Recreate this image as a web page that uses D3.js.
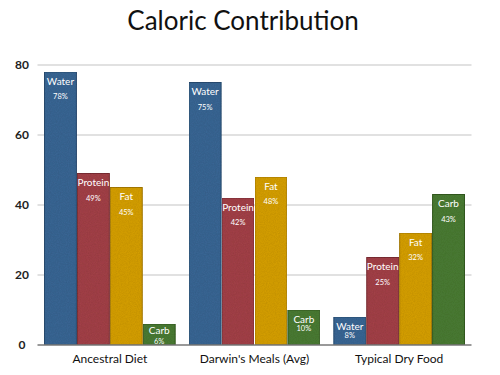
<!DOCTYPE html>
<html>
<head>
<meta charset="utf-8">
<script src="https://cdn.jsdelivr.net/npm/d3@7"></script>
<style>
  body { margin: 0; background: #fff; }
  svg { display: block; font-family: "Lato", "Open Sans", sans-serif; }
</style>
</head>
<body>
<script>
var categories = ["Ancestral Diet", "Darwin's Meals (Avg)", "Typical Dry Food"];
var nutrients = ["Water", "Protein", "Fat", "Carb"];
var water = [78, 75, 8];
var protein = [49, 42, 25];
var fat = [45, 48, 32];
var carb = [6, 10, 43];
var yTicks = [0, 20, 40, 60, 80];

function init() {
    var w = 500;
    var h = 375;
    var left = 37.5, right = 471.5, top = 65, bottom = 345;

    var values = [water, protein, fat, carb];
    var dataset = categories.map(function (c, i) {
        return { cat: c, bars: nutrients.map(function (n, j) {
            return { name: n, value: values[j][i] };
        }) };
    });

    var fill = d3.scaleOrdinal()
        .domain(nutrients)
        .range(["#3b6896", "#a5434a", "#d8a110", "#4b7d35"]);
    var stroke = d3.scaleOrdinal()
        .domain(nutrients)
        .range(["#2a4e73", "#7d2e34", "#a87c0a", "#355c24"]);

    var xScale = d3.scaleBand()
        .domain(categories)
        .range([left, right])
        .paddingInner(0.09)
        .paddingOuter(0.045);

    var xInner = d3.scaleBand()
        .domain(nutrients)
        .range([0, xScale.bandwidth()]);

    var yScale = d3.scaleLinear()
        .domain([0, 80])
        .range([bottom, top]);

    var svg = d3.select("body")
        .append("svg")
        .attr("width", w)
        .attr("height", h);

    // grain texture for the bars
    var filter = svg.append("defs").append("filter")
        .attr("id", "grain")
        .attr("x", 0).attr("y", 0).attr("width", 1).attr("height", 1);
    filter.append("feTurbulence")
        .attr("type", "fractalNoise")
        .attr("baseFrequency", 0.9)
        .attr("numOctaves", 2)
        .attr("result", "noise");
    filter.append("feColorMatrix")
        .attr("in", "noise")
        .attr("type", "matrix")
        .attr("values", "0 0 0 0 0  0 0 0 0 0  0 0 0 0 0  0 0 0 0.22 0")
        .attr("result", "dark");
    filter.append("feComposite")
        .attr("in", "dark").attr("in2", "SourceGraphic")
        .attr("operator", "in").attr("result", "darkIn");
    var merge = filter.append("feMerge");
    merge.append("feMergeNode").attr("in", "SourceGraphic");
    merge.append("feMergeNode").attr("in", "darkIn");

    // title
    svg.append("text")
        .attr("x", 243)
        .attr("y", 30)
        .attr("text-anchor", "middle")
        .style("font-size", "26px")
        .style("fill", "#111")
        .text("Caloric Contribution");

    // gridlines
    svg.append("g")
        .selectAll("line")
        .data(yTicks.slice(1))
        .enter()
        .append("line")
        .attr("x1", left)
        .attr("x2", right)
        .attr("y1", function (d) { return yScale(d); })
        .attr("y2", function (d) { return yScale(d); })
        .style("stroke", "#c4c4c4")
        .style("stroke-width", 1.2);

    // y labels
    svg.append("g")
        .selectAll("text")
        .data(yTicks)
        .enter()
        .append("text")
        .attr("x", 22)
        .attr("y", function (d) { return yScale(d) + 4; })
        .attr("text-anchor", "middle")
        .style("font-size", "12px")
        .style("font-weight", "bold")
        .style("fill", "#222")
        .text(function (d) { return d; });

    var groups = svg.selectAll("g.cat")
        .data(dataset)
        .enter()
        .append("g")
        .attr("class", "cat")
        .attr("transform", function (d) {
            return "translate(" + xScale(d.cat) + ",0)";
        });

    groups.selectAll("rect")
        .data(function (d) { return d.bars; })
        .enter()
        .append("rect")
        .attr("x", function (d) { return xInner(d.name) + 0.5; })
        .attr("y", function (d) { return yScale(d.value); })
        .attr("width", xInner.bandwidth() - 1)
        .attr("height", function (d) { return bottom - yScale(d.value); })
        .style("fill", function (d) { return fill(d.name); })
        .style("stroke", function (d) { return stroke(d.name); })
        .style("stroke-width", 1)
        .attr("filter", "url(#grain)");

    // name labels
    groups.selectAll("text.name")
        .data(function (d) { return d.bars; })
        .enter()
        .append("text")
        .attr("class", "name")
        .attr("x", function (d) { return xInner(d.name) + xInner.bandwidth() / 2; })
        .attr("y", function (d) {
            var t = yScale(d.value);
            return t + ((bottom - t) < 25 ? 9.5 : 12.5);
        })
        .attr("text-anchor", "middle")
        .style("font-size", "10px")
        .style("fill", "#fff")
        .text(function (d) { return d.name; });

    // percent labels
    groups.selectAll("text.pct")
        .data(function (d) { return d.bars; })
        .enter()
        .append("text")
        .attr("class", "pct")
        .attr("x", function (d) { return xInner(d.name) + xInner.bandwidth() / 2; })
        .attr("y", function (d) {
            var t = yScale(d.value);
            var off = (bottom - t) < 40 ? 20.5 : 27;
            return Math.min(t + off, bottom - 1.5);
        })
        .attr("text-anchor", "middle")
        .style("font-size", "7.5px")
        .style("fill", "#fff")
        .text(function (d) { return d.value + "%"; });

    // baseline
    svg.append("line")
        .attr("x1", left)
        .attr("x2", right)
        .attr("y1", bottom)
        .attr("y2", bottom)
        .style("stroke", "#777")
        .style("stroke-width", 1.5);

    // category labels
    svg.append("g")
        .selectAll("text")
        .data(categories)
        .enter()
        .append("text")
        .attr("x", function (d) { return xScale(d) + xScale.bandwidth() / 2; })
        .attr("y", 363)
        .attr("text-anchor", "middle")
        .style("font-size", "12px")
        .style("fill", "#111")
        .text(function (d) { return d; });
}

window.onload = init;
</script>
</body>
</html>
